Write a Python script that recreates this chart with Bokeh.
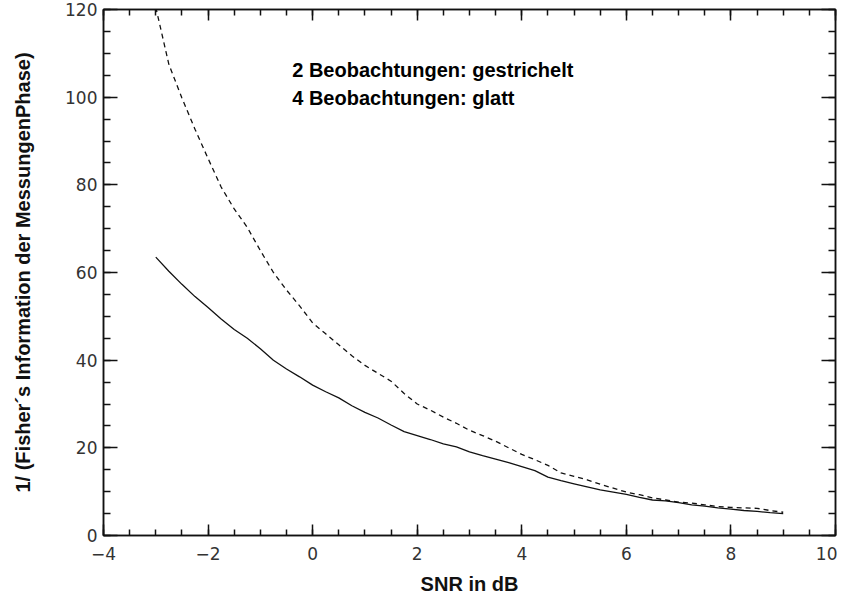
from bokeh.plotting import figure
from bokeh.models import (LinearAxis, SingleIntervalTicker, Range1d, Label, ColumnDataSource)
from bokeh.embed import file_html
from bokeh.resources import INLINE

# ---- data ----
snr = [-3, -2.75, -2.5, -2.25, -2, -1.75, -1.5, -1.25, -1, -0.75, -0.5, -0.25,
       0, 0.25, 0.5, 0.75, 1, 1.25, 1.5, 1.75, 2, 2.25, 2.5, 2.75,
       3, 3.25, 3.5, 3.75, 4, 4.25, 4.5, 4.75, 5, 5.25, 5.5, 5.75,
       6, 6.25, 6.5, 6.75, 7, 7.25, 7.5, 7.75, 8, 8.25, 8.5, 8.75, 9]

obs4_smooth = [63.5, 60.3, 57.3, 54.5, 52.0, 49.4, 47.0, 45.0, 42.6, 40.0, 38.0, 36.2,
               34.3, 32.8, 31.4, 29.6, 28.1, 26.8, 25.2, 23.7, 22.8, 21.9, 20.9, 20.2,
               19.1, 18.2, 17.4, 16.6, 15.7, 14.8, 13.3, 12.5, 11.8, 11.1, 10.4, 9.9,
               9.4, 8.7, 8.1, 7.9, 7.5, 7.0, 6.7, 6.3, 6.0, 5.7, 5.5, 5.2, 5.0]

obs2_dashed = [120.5, 107.5, 99.8, 92.7, 86.0, 79.5, 74.5, 70.3, 65.0, 60.0, 56.0, 52.4,
               48.5, 46.0, 43.5, 41.0, 38.8, 37.0, 35.2, 32.4, 30.0, 28.6, 27.0, 25.6,
               24.0, 22.8, 21.5, 20.0, 18.5, 17.3, 16.0, 14.3, 13.5, 12.7, 11.7, 10.8,
               9.9, 9.3, 8.6, 8.1, 7.6, 7.4, 7.0, 6.6, 6.4, 6.3, 6.2, 5.7, 5.3]

x_label = "SNR in dB"
y_label = "1/ (Fisher\u00b4s Information der MessungenPhase)"
note_lines = ["2 Beobachtungen: gestrichelt", "4 Beobachtungen: glatt"]

# ---- figure ----
p = figure(width=837, height=600, output_backend="svg", toolbar_location=None,
           x_range=Range1d(-4, 10), y_range=Range1d(0, 120),
           x_axis_location=None, y_axis_location=None,
           min_border_left=103, min_border_right=2, min_border_top=9, min_border_bottom=65)
p.xgrid.visible = False
p.ygrid.visible = False
p.outline_line_color = "#111111"
p.outline_line_width = 1.5
p.background_fill_color = "white"
p.border_fill_color = "white"

src = ColumnDataSource(dict(x=snr, y4=obs4_smooth, y2=obs2_dashed))
p.line("x", "y4", source=src, line_color="#111111", line_width=1.3)
p.line("x", "y2", source=src, line_color="#111111", line_width=1.3, line_dash="5 4")

tick_font = "DejaVu Sans"
tick_color = "#333333"

def style_axis(ax, tin, minin, labels, standoff):
    ax.major_tick_in = tin
    ax.major_tick_out = 0
    ax.minor_tick_in = minin
    ax.minor_tick_out = 0
    ax.axis_line_color = "#111111"
    ax.axis_line_width = 1.5
    ax.major_tick_line_color = "#111111"
    ax.minor_tick_line_color = "#111111"
    ax.major_tick_line_width = 1.5
    ax.minor_tick_line_width = 1.5
    if labels:
        ax.major_label_text_font = tick_font
        ax.major_label_text_font_size = "17px"
        ax.major_label_text_color = tick_color
        ax.major_label_standoff = standoff
    else:
        ax.major_label_text_font_size = "0px"
        ax.major_label_standoff = 0
    return ax

def x_axis(labels):
    ax = LinearAxis(ticker=SingleIntervalTicker(interval=2, num_minor_ticks=4))
    return style_axis(ax, 11, 6, labels, 11)

def y_axis(labels):
    ax = LinearAxis(ticker=SingleIntervalTicker(interval=20, num_minor_ticks=4))
    return style_axis(ax, 14, 7, labels, 6)

xb = x_axis(True)
xb.axis_label = x_label
xb.axis_label_text_font = "Liberation Sans"
xb.axis_label_text_font_style = "bold"
xb.axis_label_text_font_size = "20px"
xb.axis_label_text_color = "#111111"
xb.axis_label_standoff = 10
p.add_layout(xb, "below")
p.add_layout(x_axis(False), "above")

yl = y_axis(True)
yl.axis_label = y_label
yl.axis_label_text_font = "Liberation Sans"
yl.axis_label_text_font_style = "bold"
yl.axis_label_text_font_size = "20px"
yl.axis_label_text_color = "#111111"
yl.axis_label_standoff = 28
p.add_layout(yl, "left")
p.add_layout(y_axis(False), "right")

# annotation text inside plot
for i, line in enumerate(note_lines):
    p.add_layout(Label(x=-0.39, y=106.2 - i * 6.4, text=line, text_align="left",
                       text_baseline="middle", text_font="Liberation Sans",
                       text_font_style="bold", text_font_size="20px", text_color="#000000"))

open("out.html", "w").write(file_html(p, INLINE))
